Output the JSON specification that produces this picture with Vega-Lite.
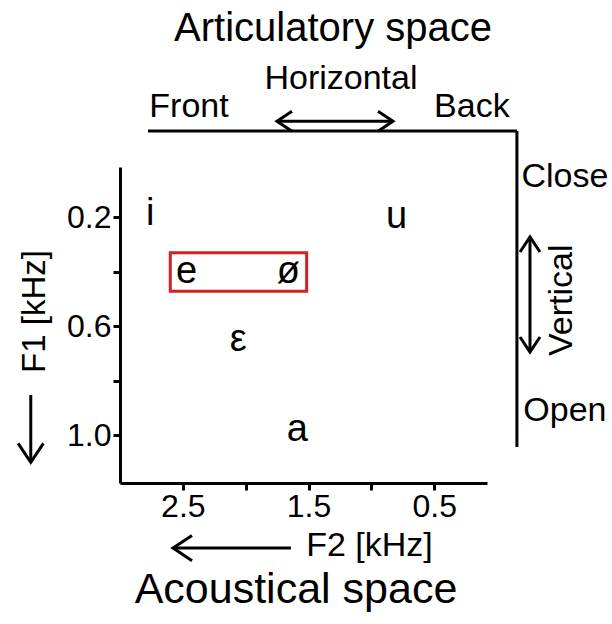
{
  "$schema": "https://vega.github.io/schema/vega-lite/v6.json",
  "width": 367,
  "height": 316,
  "autosize": {"type": "none"},
  "padding": {"left": 120, "top": 167, "right": 125, "bottom": 141},
  "background": "white",
  "config": {"view": {"stroke": null}, "font": "Liberation Sans"},
  "data": {
    "values": [
      {"kind": "vowel", "label": "i", "F2": 2.76, "F1": 0.19},
      {"kind": "vowel", "label": "u", "F2": 0.80, "F1": 0.20},
      {"kind": "vowel", "label": "e", "F2": 2.47, "F1": 0.40},
      {"kind": "vowel", "label": "ø", "F2": 1.66, "F1": 0.40},
      {"kind": "vowel", "label": "ε", "F2": 2.06, "F1": 0.65},
      {"kind": "vowel", "label": "a", "F2": 1.59, "F1": 0.98},
      {"kind": "box", "label": "e–ø", "F2": 2.60, "F2b": 1.515, "F1": 0.331, "F1b": 0.472},
      {"kind": "line", "label": "articulatory top", "F2": 2.777, "F2b": -0.158, "F1": -0.116, "F1b": -0.116},
      {"kind": "line", "label": "articulatory side", "F2": -0.158, "F2b": -0.158, "F1": -0.116, "F1b": 1.044},
      {"kind": "line", "label": "Horizontal", "F2": 1.751, "F2b": 0.828, "F1": -0.152, "F1b": -0.152},
      {"kind": "line", "label": "Vertical", "F2": -0.262, "F2b": -0.262, "F1": 0.273, "F1b": 0.695},
      {"kind": "line", "label": "F2", "F2": 2.578, "F2b": 1.640, "F1": 1.415, "F1b": 1.415},
      {"kind": "line", "label": "F1", "F2": 3.710, "F2b": 3.710, "F1": 0.853, "F1b": 1.100},
      {"kind": "head", "label": "Horizontal", "dir": "left", "F2": 1.751, "F1": -0.152},
      {"kind": "head", "label": "Horizontal", "dir": "right", "F2": 0.828, "F1": -0.152},
      {"kind": "head", "label": "Vertical", "dir": "up", "F2": -0.262, "F1": 0.273},
      {"kind": "head", "label": "Vertical", "dir": "down", "F2": -0.262, "F1": 0.695},
      {"kind": "head", "label": "F2", "dir": "left", "F2": 2.578, "F1": 1.415},
      {"kind": "head", "label": "F1", "dir": "down", "F2": 3.710, "F1": 1.100},
      {"kind": "label", "label": "Horizontal", "F2": 1.242, "F1": -0.306},
      {"kind": "label", "label": "Front", "F2": 2.451, "F1": -0.204},
      {"kind": "label", "label": "Back", "F2": 0.200, "F1": -0.204},
      {"kind": "label", "label": "Close", "F2": -0.540, "F1": 0.053},
      {"kind": "label", "label": "Open", "F2": -0.540, "F1": 0.912},
      {"kind": "vlabel", "label": "Vertical", "F2": -0.516, "F1": 0.505},
      {"kind": "title", "label": "Articulatory space", "F2": 1.305, "F1": -0.490},
      {"kind": "title2", "label": "Acoustical space", "F2": 1.600, "F1": 1.569}
    ]
  },
  "encoding": {
    "x": {
      "field": "F2", "type": "quantitative",
      "scale": {"domain": [0.08, 3.0], "reverse": true, "nice": false, "zero": false},
      "axis": {
        "title": "F2 [kHz]", "values": [2.5, 2.0, 1.5, 1.0, 0.5],
        "labelExpr": "datum.value == 2 || datum.value == 1 ? '' : format(datum.value, '.1f')",
        "grid": false, "domainColor": "black", "domainWidth": 3, "tickColor": "black", "tickWidth": 3, "tickSize": 7,
        "labelFont": "Liberation Sans", "labelFontSize": 32, "labelColor": "black", "labelPadding": 1,
        "titleFont": "Liberation Sans", "titleFontSize": 34, "titleFontWeight": "normal", "titleColor": "black",
        "titleX": 249, "titlePadding": 6
      }
    },
    "y": {
      "field": "F1", "type": "quantitative",
      "scale": {"domain": [0.016, 1.176], "reverse": true, "nice": false, "zero": false},
      "axis": {
        "title": "F1 [kHz]", "values": [0.2, 0.4, 0.6, 0.8, 1.0],
        "labelExpr": "datum.value == 0.4 || datum.value == 0.8 ? '' : format(datum.value, '.1f')",
        "grid": false, "domainColor": "black", "domainWidth": 3, "tickColor": "black", "tickWidth": 3, "tickSize": 7,
        "labelFont": "Liberation Sans", "labelFontSize": 32, "labelColor": "black", "labelPadding": 2,
        "titleFont": "Liberation Sans", "titleFontSize": 33, "titleFontWeight": "normal", "titleColor": "black",
        "titleY": 144, "titlePadding": 15
      }
    }
  },
  "layer": [
    {
      "transform": [{"filter": "datum.kind == 'vowel'"}],
      "mark": {"type": "text", "font": "Liberation Sans", "fontSize": 38, "baseline": "middle", "align": "center", "color": "black"},
      "encoding": {"text": {"field": "label"}}
    },
    {
      "transform": [{"filter": "datum.kind == 'box'"}],
      "mark": {"type": "rect", "fill": null, "fillOpacity": 0, "stroke": "#d42027", "strokeWidth": 3},
      "encoding": {"x2": {"field": "F2b"}, "y2": {"field": "F1b"}}
    },
    {
      "transform": [{"filter": "datum.kind == 'line'"}],
      "mark": {"type": "rule", "color": "black", "strokeWidth": 3},
      "encoding": {"x2": {"field": "F2b"}, "y2": {"field": "F1b"}}
    },
    {
      "transform": [{"filter": "datum.kind == 'head' && datum.label != 'F1' && datum.label != 'F2'"}],
      "mark": {"type": "point", "filled": false, "color": "black", "strokeWidth": 3, "size": 400, "opacity": 1},
      "encoding": {
        "shape": {
          "field": "dir", "type": "nominal", "legend": null,
          "scale": {
            "domain": ["left", "right", "up", "down"],
            "range": ["M 1.5 -1 L 0 0 L 1.5 1", "M -1.5 -1 L 0 0 L -1.5 1", "M -1 1.5 L 0 0 L 1 1.5", "M -1 -1.5 L 0 0 L 1 -1.5"]
          }
        }
      }
    },
    {
      "transform": [{"filter": "datum.kind == 'head' && (datum.label == 'F1' || datum.label == 'F2')"}],
      "mark": {"type": "point", "filled": false, "color": "black", "strokeWidth": 3, "size": 640, "opacity": 1},
      "encoding": {
        "shape": {"field": "dir", "type": "nominal", "legend": null}
      }
    },
    {
      "transform": [{"filter": "datum.kind == 'label'"}],
      "mark": {"type": "text", "font": "Liberation Sans", "fontSize": 34, "baseline": "middle", "align": "center", "color": "black"},
      "encoding": {"text": {"field": "label"}}
    },
    {
      "transform": [{"filter": "datum.kind == 'vlabel'"}],
      "mark": {"type": "text", "font": "Liberation Sans", "fontSize": 34, "baseline": "middle", "align": "center", "angle": 270, "color": "black"},
      "encoding": {"text": {"field": "label"}}
    },
    {
      "transform": [{"filter": "datum.kind == 'title'"}],
      "mark": {"type": "text", "font": "Liberation Sans", "fontSize": 40, "baseline": "middle", "align": "center", "color": "black"},
      "encoding": {"text": {"field": "label"}}
    },
    {
      "transform": [{"filter": "datum.kind == 'title2'"}],
      "mark": {"type": "text", "font": "Liberation Sans", "fontSize": 43, "baseline": "middle", "align": "center", "color": "black"},
      "encoding": {"text": {"field": "label"}}
    }
  ]
}
